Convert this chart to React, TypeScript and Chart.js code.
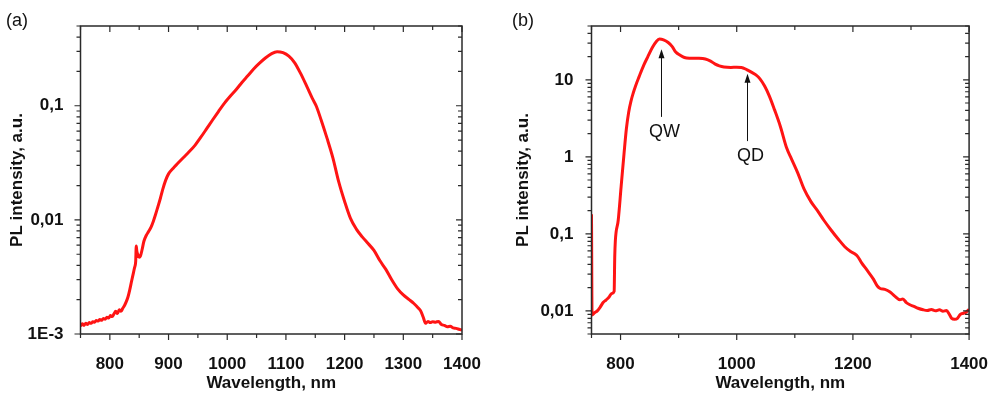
import { useEffect, useRef } from 'react';
import { Chart, registerables } from 'chart.js';

Chart.register(...registerables);

// ---------- Panel (a) data ----------
const wavelengthA = [
  750, 753, 756, 759, 762, 765, 768, 771, 774, 777, 780, 783, 786, 789, 792, 795, 798, 801, 804, 807,
  810, 813, 816, 819, 822, 825, 828, 831, 834, 837, 840, 842, 844, 845, 846, 848, 850, 852, 855, 858,
  862, 866, 870, 874, 878, 882, 886, 890, 895, 900, 908, 915, 925, 935, 945, 955, 965, 975, 985, 995,
  1005, 1015, 1025, 1035, 1045, 1055, 1065, 1075, 1085, 1095, 1105, 1115, 1125, 1135, 1145, 1152, 1160,
  1170, 1180, 1190, 1200, 1210, 1220, 1230, 1240, 1250, 1260, 1270, 1280, 1290, 1300, 1310, 1318, 1325,
  1330, 1334, 1338, 1342, 1346, 1350, 1355, 1360, 1365, 1370, 1375, 1380, 1385, 1390, 1395, 1400,
];
const intensityA = [
  0.00117, 0.00123, 0.00119, 0.00124, 0.00121, 0.00126, 0.00124, 0.00128, 0.00127, 0.00131, 0.0013, 0.00134,
  0.00132, 0.00137, 0.00135, 0.0014, 0.00138, 0.00145, 0.00142, 0.0015, 0.00158, 0.00151, 0.00163, 0.00158,
  0.00168, 0.00178, 0.00192, 0.00212, 0.00245, 0.0029, 0.0034, 0.0038, 0.0043, 0.0059, 0.0053, 0.0049,
  0.0047, 0.0048, 0.0055, 0.0065, 0.0073, 0.0079, 0.0086, 0.0097, 0.0112, 0.0131, 0.0154, 0.0184, 0.0222,
  0.0253, 0.0284, 0.031, 0.035, 0.0395, 0.045, 0.053, 0.063, 0.075, 0.089, 0.105, 0.121, 0.138, 0.16,
  0.183, 0.21, 0.236, 0.262, 0.285, 0.298, 0.292, 0.272, 0.238, 0.192, 0.15, 0.116, 0.0986, 0.075, 0.052,
  0.035, 0.0215, 0.0145, 0.0103, 0.0083, 0.0071, 0.0062, 0.0054, 0.0044, 0.0037, 0.003, 0.0025, 0.0022,
  0.002, 0.00185, 0.0017, 0.00158, 0.0014, 0.00124, 0.00129, 0.00126, 0.00128, 0.00127, 0.00129, 0.00121,
  0.00119, 0.00116, 0.00117, 0.00113, 0.00112, 0.0011, 0.00108,
];

// ---------- Panel (b) data ----------
const wavelengthB = [
  750, 751, 755, 760, 765, 770, 775, 780, 785, 789, 790, 791, 796, 801, 806, 810, 814, 818, 822, 826, 832,
  840, 847, 855, 861, 867, 874, 882, 889, 895, 902, 910, 920, 935, 946, 955, 963, 970, 978, 990, 1000,
  1008, 1017, 1025, 1033, 1040, 1048, 1056, 1065, 1075, 1086, 1094, 1105, 1116, 1128, 1139, 1150, 1162,
  1175, 1186, 1196, 1203, 1208, 1215, 1224, 1235, 1242, 1247, 1255, 1264, 1272, 1281, 1286, 1292, 1298,
  1305, 1312, 1321, 1328, 1335, 1342, 1349, 1355, 1361, 1366, 1370, 1375, 1380, 1385, 1390, 1395, 1400,
];
const intensityB = [
  0.18, 0.0088, 0.0094, 0.01, 0.0112, 0.0128, 0.0138, 0.015, 0.0168, 0.018, 0.05, 0.08, 0.15, 0.41, 1.1,
  2.3, 3.8, 5.3, 6.8, 8.4, 11, 15.5, 20, 26.5, 31, 33.8, 33, 30.5, 27, 23, 21, 19.5, 19.1, 19.0, 18.6,
  17.5, 16, 15.2, 14.7, 14.5, 14.6, 14.5, 13.6, 12.6, 11.6, 10.3, 8.3, 6.2, 4.1, 2.5, 1.3, 0.95, 0.62,
  0.38, 0.26, 0.2, 0.15, 0.113, 0.085, 0.068, 0.059, 0.055, 0.051, 0.042, 0.034, 0.026, 0.021, 0.0195,
  0.019, 0.0176, 0.0155, 0.0139, 0.0142, 0.0128, 0.012, 0.0114, 0.0108, 0.0103, 0.0101, 0.0104, 0.01,
  0.0103, 0.0099, 0.0101, 0.009, 0.008, 0.0078, 0.008, 0.009, 0.0093, 0.0096, 0.0105,
];

// ---------- Axes / ticks ----------
const xTicksA = [750, 800, 850, 900, 950, 1000, 1050, 1100, 1150, 1200, 1250, 1300, 1350, 1400];
const xMajorA = [800, 900, 1000, 1100, 1200, 1300, 1400];
const xTicksB = [750, 800, 900, 1000, 1100, 1200, 1300, 1400];
const xMajorB = [800, 1000, 1200, 1400];
const yMajorA = [0.001, 0.01, 0.1];
const yLabelsA = ['1E-3', '0,01', '0,1'];
const yMajorB = [0.01, 0.1, 1, 10];
const yLabelsB = ['0,01', '0,1', '1', '10'];
const yRangeA = [0.001, 0.5];
const yRangeB = [0.005, 50];

// ---------- Annotations (panel b) ----------
const annotLabels = ['QW', 'QD'];
const annotX = [869, 1017];
const annotTip = [25, 12];
const annotTail = [3.3, 1.6];

const FONT = "'Liberation Sans', Arial, Helvetica, sans-serif";
const RED = '#ff1414';
const AXIS = '#2a2a2a';
const TEXT = '#111111';

function logTickValues(min: number, max: number): number[] {
  const out: number[] = [];
  for (let e = Math.floor(Math.log10(min)) - 1; e <= Math.ceil(Math.log10(max)); e++) {
    for (let m = 1; m < 10; m++) {
      const v = +(m * Math.pow(10, e)).toPrecision(6);
      if (v >= min * 0.9999 && v <= max * 1.0001) out.push(v);
    }
  }
  return out;
}

const framePlugin = {
  id: 'frame',
  afterDraw(chart: any, _args: any, opts: any) {
    const { ctx, chartArea } = chart;
    const { left, right, top, bottom } = chartArea;
    const xs = chart.scales.x;
    const ys = chart.scales.y;
    ctx.save();
    ctx.strokeStyle = AXIS;
    ctx.lineWidth = 1.5;
    ctx.strokeRect(left, top, right - left, bottom - top);
    ctx.lineWidth = 1.2;
    ctx.beginPath();
    xs.ticks.forEach((t: any) => {
      const px = xs.getPixelForValue(t.value);
      const L = opts.xMajor.includes(t.value) ? 6 : 4;
      ctx.moveTo(px, bottom);
      ctx.lineTo(px, bottom + L);
      ctx.moveTo(px, top);
      ctx.lineTo(px, top + L);
    });
    ys.ticks.forEach((t: any) => {
      const py = ys.getPixelForValue(t.value);
      const L = opts.yMajor.includes(t.value) ? 6 : 4;
      ctx.moveTo(left - L, py);
      ctx.lineTo(left, py);
      ctx.moveTo(right - L, py);
      ctx.lineTo(right, py);
    });
    ctx.stroke();

    ctx.fillStyle = TEXT;
    ctx.font = `18px ${FONT}`;
    ctx.textBaseline = 'middle';
    ctx.textAlign = 'left';
    ctx.fillText(opts.panel, opts.panelX, opts.panelY);

    if (opts.annotations) {
      ctx.strokeStyle = '#111';
      ctx.lineWidth = 1;
      annotLabels.forEach((lab, i) => {
        const px = Math.round(xs.getPixelForValue(annotX[i])) + 0.5;
        const tipY = ys.getPixelForValue(annotTip[i]);
        const tailY = ys.getPixelForValue(annotTail[i]);
        ctx.beginPath();
        ctx.moveTo(px, tailY);
        ctx.lineTo(px, tipY + 6);
        ctx.stroke();
        ctx.beginPath();
        ctx.moveTo(px, tipY);
        ctx.lineTo(px - 3, tipY + 9);
        ctx.lineTo(px + 3, tipY + 9);
        ctx.closePath();
        ctx.fillStyle = '#111';
        ctx.fill();
        ctx.font = `18px ${FONT}`;
        ctx.textAlign = 'center';
        ctx.textBaseline = 'middle';
        ctx.fillText(lab, px + 3, tailY + 15);
      });
    }
    ctx.restore();
  },
};

interface PanelCfg {
  xs: number[];
  ys: number[];
  xTicks: number[];
  xMajor: number[];
  yMajor: number[];
  yLabels: string[];
  yRange: number[];
  yWidth: number;
  padRight: number;
  yTitlePad: number;
  yTickPad: number;
  panel: string;
  panelX: number;
  annotations: boolean;
}

function makeConfig(p: PanelCfg): any {
  const tickFont = { family: FONT, size: 17, weight: 'bold' as const };
  return {
    type: 'line',
    data: {
      datasets: [
        {
          data: p.xs.map((x, i) => ({ x, y: p.ys[i] })),
          borderColor: RED,
          borderWidth: 3,
          pointRadius: 0,
          fill: false,
          cubicInterpolationMode: 'monotone',
        },
      ],
    },
    options: {
      responsive: false,
      animation: false,
      layout: { padding: { left: 0, right: p.padRight, top: 26, bottom: 0 } },
      plugins: {
        legend: { display: false },
        tooltip: { enabled: false },
        frame: {
          xMajor: p.xMajor,
          yMajor: p.yMajor,
          panel: p.panel,
          panelX: p.panelX,
          panelY: 21,
          annotations: p.annotations,
        },
      },
      scales: {
        x: {
          type: 'linear',
          min: 750,
          max: 1400,
          afterBuildTicks: (s: any) => {
            s.ticks = p.xTicks.map((v) => ({ value: v }));
          },
          afterFit: (s: any) => {
            s.height = 64;
          },
          grid: { display: false },
          border: { display: false },
          ticks: {
            autoSkip: false,
            maxRotation: 0,
            padding: 12,
            color: TEXT,
            font: tickFont,
            callback: (v: number) => (p.xMajor.includes(v) ? String(v) : ''),
          },
          title: {
            display: true,
            text: 'Wavelength, nm',
            color: TEXT,
            font: tickFont,
            padding: { top: 0, bottom: 4.8 },
          },
        },
        y: {
          type: 'logarithmic',
          min: p.yRange[0],
          max: p.yRange[1],
          afterBuildTicks: (s: any) => {
            s.ticks = logTickValues(p.yRange[0], p.yRange[1]).map((v) => ({ value: v }));
          },
          afterFit: (s: any) => {
            s.width = p.yWidth;
          },
          grid: { display: false },
          border: { display: false },
          ticks: {
            autoSkip: false,
            padding: p.yTickPad,
            color: TEXT,
            font: tickFont,
            callback: (v: number) => {
              const idx = p.yMajor.indexOf(v);
              return idx >= 0 ? p.yLabels[idx] : '';
            },
          },
          title: {
            display: true,
            text: 'PL intensity, a.u.',
            color: TEXT,
            font: tickFont,
            padding: { top: p.yTitlePad, bottom: 0 },
          },
        },
      },
    },
    plugins: [framePlugin],
  };
}

const cfgA: PanelCfg = {
  xs: wavelengthA,
  ys: intensityA,
  xTicks: xTicksA,
  xMajor: xMajorA,
  yMajor: yMajorA,
  yLabels: yLabelsA,
  yRange: yRangeA,
  yWidth: 80.5,
  padRight: 38,
  yTitlePad: 7.3,
  yTickPad: 9,
  panel: '(a)',
  panelX: 6,
  annotations: false,
};

const cfgB: PanelCfg = {
  xs: wavelengthB,
  ys: intensityB,
  xTicks: xTicksB,
  xMajor: xMajorB,
  yMajor: yMajorB,
  yLabels: yLabelsB,
  yRange: yRangeB,
  yWidth: 91.5,
  padRight: 27,
  yTitlePad: 13.3,
  yTickPad: 10,
  panel: '(b)',
  panelX: 12,
  annotations: true,
};

function Panel({ cfg, left }: { cfg: PanelCfg; left: number }) {
  const ref = useRef<HTMLCanvasElement | null>(null);
  useEffect(() => {
    if (!ref.current) return;
    const chart = new Chart(ref.current, makeConfig(cfg));
    return () => chart.destroy();
  }, [cfg]);
  return (
    <canvas
      ref={ref}
      width={500}
      height={398}
      style={{ position: 'absolute', left, top: 0, width: 500, height: 398 }}
    />
  );
}

export default function App() {
  useEffect(() => {
    document.body.style.margin = '0';
  }, []);
  return (
    <div style={{ position: 'relative', width: 1000, height: 398, background: '#ffffff', overflow: 'hidden' }}>
      <Panel cfg={cfgA} left={0} />
      <Panel cfg={cfgB} left={500} />
    </div>
  );
}
